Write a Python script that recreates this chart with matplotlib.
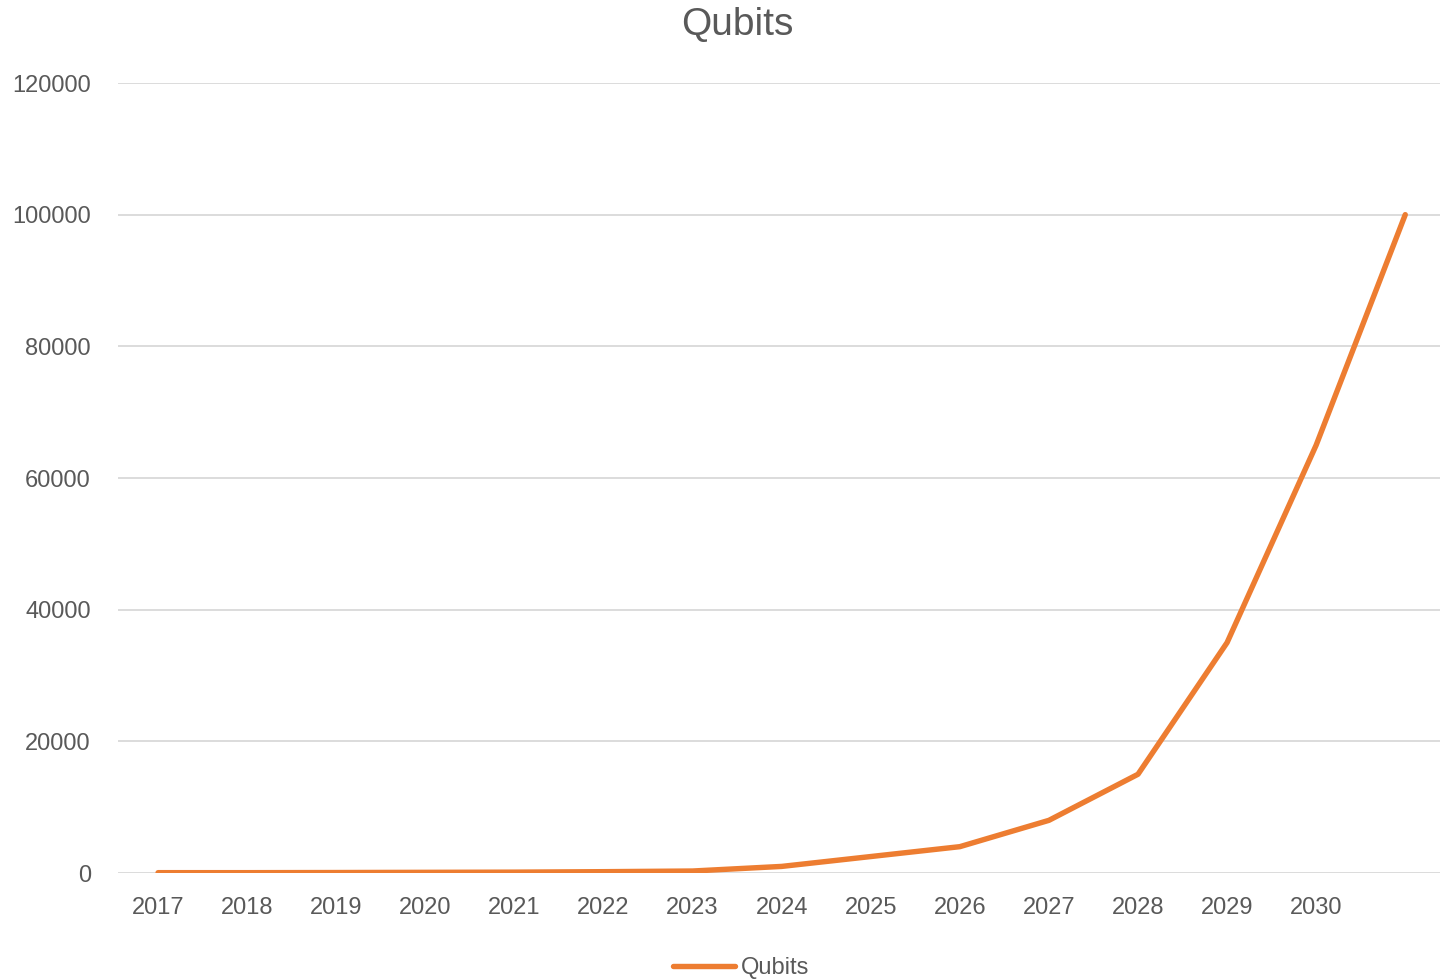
import matplotlib
matplotlib.use("Agg")
import matplotlib.pyplot as plt

# categories (last point has no label in the source chart)
years = ["2017", "2018", "2019", "2020", "2021", "2022", "2023", "2024",
         "2025", "2026", "2027", "2028", "2029", "2030", ""]
qubits = [50, 50, 70, 100, 130, 200, 300, 1000, 2500, 4000, 8000, 15000,
          35000, 65000, 100000]
yticks = [0, 20000, 40000, 60000, 80000, 100000, 120000]

orange = "#ED7D31"
txt = "#595959"
grid = "#D9D9D9"

plt.rcParams['font.family'] = ['Liberation Sans', 'DejaVu Sans']

fig = plt.figure(figsize=(14.4, 9.8), dpi=100)
ax = fig.add_axes([118/1440, 107/980, 1 - 118/1440, 790/980])

x = list(range(len(years)))
line, = ax.plot(x, qubits, color=orange, lw=3.9, solid_capstyle='round',
                solid_joinstyle='round', label="Qubits", zorder=3)

ax.set_xlim(-0.45, 14.39)
ax.set_ylim(0, 120000)
ax.set_yticks(yticks)
ax.set_yticklabels([str(v) for v in yticks])
ax.set_xticks(x)
ax.set_xticklabels(years)

for s in ax.spines.values():
    s.set_visible(False)
ax.yaxis.grid(True, color=grid, lw=1.3)
ax.set_axisbelow(True)
ax.tick_params(axis='both', length=0, labelsize=17, labelcolor=txt)
ax.tick_params(axis='y', pad=19.5)
ax.tick_params(axis='x', pad=17)

fig.text(737/1440, 1 - 25/980, "Qubits", ha='center', va='center',
         fontsize=28, color=txt)

leg = fig.legend(handles=[line], loc='center', bbox_to_anchor=(741/1440, 1 - 968/980),
                 frameon=False, fontsize=17, handlelength=2.6, handletextpad=0.25)
for t in leg.get_texts():
    t.set_color(txt)

fig.savefig("out.png", dpi=100, facecolor="white")
